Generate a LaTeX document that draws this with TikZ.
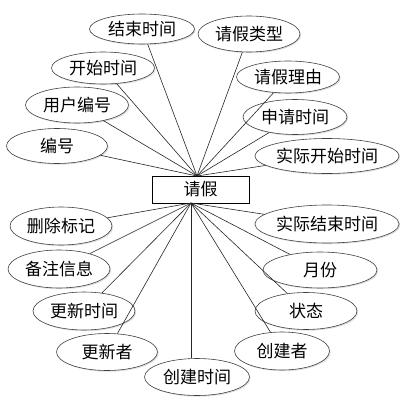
\documentclass[tikz,border=0pt]{standalone}
\usepackage{fontspec}
\newfontfamily\cjk{Noto Sans CJK SC}
\usetikzlibrary{shapes.geometric,shadows}
\begin{document}
\begin{tikzpicture}[x=1pt,y=-1pt,
  attr/.style={ellipse,draw=black!75,line width=0.6pt,fill=white,inner sep=0pt,
    drop shadow={opacity=0.25,shadow xshift=1.2pt,shadow yshift=-1.2pt},
    font=\cjk\fontsize{17}{17}\selectfont},
  ent/.style={rectangle,draw=black,line width=0.7pt,fill=white,inner sep=0pt,
    drop shadow={opacity=0.25,shadow xshift=1.2pt,shadow yshift=-1.2pt},
    font=\cjk\fontsize{17}{17}\selectfont},
  link/.style={draw=black!85,line width=0.6pt}]
\useasboundingbox (0,0) rectangle (403,412);
\fill[white] (0,0) rectangle (403,412);
\coordinate (top) at (197,176);
\coordinate (bot) at (191,203);
\node[attr,minimum width=105pt,minimum height=30pt] (a1) at (142,29) {结束时间};
\node[attr,minimum width=102pt,minimum height=36pt] (a2) at (249,34) {请假类型};
\node[attr,minimum width=103pt,minimum height=32pt] (a3) at (288,77) {请假理由};
\node[attr,minimum width=104pt,minimum height=35pt] (a4) at (295,117) {申请时间};
\node[attr,minimum width=115pt,minimum height=35pt] (a5) at (327,156) {实际开始时间};
\node[attr,minimum width=101pt,minimum height=35pt] (a6) at (57,146) {编号};
\node[attr,minimum width=103pt,minimum height=36pt] (a7) at (77,105) {用户编号};
\node[attr,minimum width=103pt,minimum height=32pt] (a8) at (103,68) {开始时间};
\node[attr,minimum width=102pt,minimum height=38pt] (a9) at (61,226) {删除标记};
\node[attr,minimum width=102pt,minimum height=38pt] (a10) at (59,269) {备注信息};
\node[attr,minimum width=102pt,minimum height=38pt] (a11) at (84,311) {更新时间};
\node[attr,minimum width=101pt,minimum height=37pt] (a12) at (107,352) {更新者};
\node[attr,minimum width=105pt,minimum height=37pt] (a13) at (197,377) {创建时间};
\node[attr,minimum width=115pt,minimum height=38pt] (a14) at (327,224) {实际结束时间};
\node[attr,minimum width=114pt,minimum height=36pt] (a15) at (320,270) {月份};
\node[attr,minimum width=102pt,minimum height=37pt] (a16) at (306,311) {状态};
\node[attr,minimum width=95pt,minimum height=38pt] (a17) at (282,351) {创建者};
\node[ent,minimum width=97pt,minimum height=27pt] (e) at (200.5,189.5) {请假};
\foreach \n in {a1,a2,a3,a4,a5,a6,a7,a8} \draw[link] (\n) -- (top);
\foreach \n in {a9,a10,a11,a12,a14,a15,a16,a17} \draw[link] (\n) -- (bot);
\draw[link] (bot) -- (bot |- a13.north);
\end{tikzpicture}
\end{document}
